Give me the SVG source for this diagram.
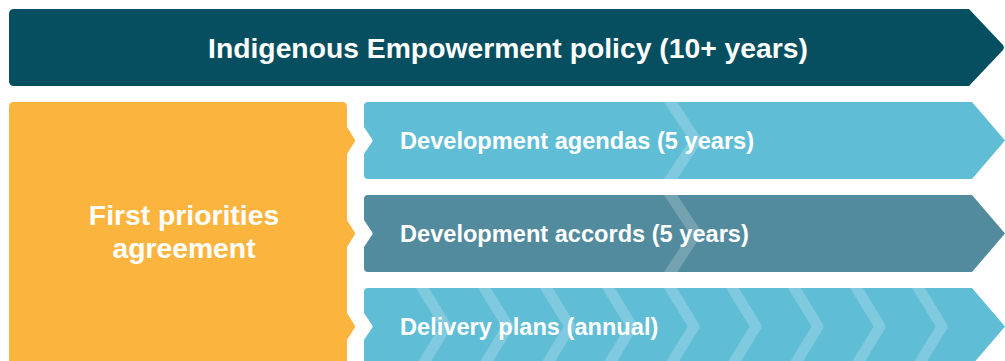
<svg xmlns="http://www.w3.org/2000/svg" width="1005" height="361" viewBox="0 0 1005 361">
<defs>
<style>
.t{font-family:"Liberation Sans",Arial,Helvetica,sans-serif;font-weight:bold;fill:#ffffff}
.big{font-size:28.3px}
.mid{font-size:23.6px}
.chev{fill:none;stroke:#ffffff;stroke-opacity:0.2;stroke-width:11;stroke-linejoin:round}
</style>
<path id="bar1" d="M368 102H972L1005 140.5L972 179H368Q364 179 364 175V154L372 142Q373.2 140.5 372 139L364 127V106Q364 102 368 102Z"/>
<path id="bar2" d="M368 195H972L1005 233.5L972 272H368Q364 272 364 268V247L372 235Q373.2 233.5 372 232L364 220V199Q364 195 368 195Z"/>
<path id="bar3" d="M368 288H972L1005 326.5L972 365H368Q364 365 364 361V340L372 328Q373.2 326.5 372 325L364 313V292Q364 288 368 288Z"/>
<clipPath id="c1"><use href="#bar1"/></clipPath>
<clipPath id="c2"><use href="#bar2"/></clipPath>
<clipPath id="c3"><use href="#bar3"/></clipPath>
</defs>
<rect width="1005" height="361" fill="#ffffff"/>
<g id="policy">
<path d="M14 9H969L1003 45Q1004.6 47.5 1003 50L969 86H14Q9 86 9 81V14Q9 9 14 9Z" fill="#064F61"/>
<text class="t big" x="508" y="58" text-anchor="middle">Indigenous Empowerment policy (10+ years)</text>
</g>
<g id="agreement">
<path d="M14 102H342Q347 102 347 107V127L354.5 139Q355.6 140.5 354.5 142L347 154V220L354.5 232Q355.6 233.5 354.5 235L347 247V313L354.5 325Q355.6 326.5 354.5 328L347 340V370H9V107Q9 102 14 102Z" fill="#FBB53E"/>
<text class="t big" x="184" y="225" text-anchor="middle">First priorities</text>
<text class="t big" x="184" y="258" text-anchor="middle">agreement</text>
</g>
<g id="agendas">
<use href="#bar1" fill="#60BDD6"/>
<g clip-path="url(#c1)">
<path class="chev" d="M668 98L696 140.5L668 183"/>
</g>
<text class="t mid" x="400" y="148.5">Development agendas (5 years)</text>
</g>
<g id="accords">
<use href="#bar2" fill="#528B9D"/>
<g clip-path="url(#c2)">
<path class="chev" d="M668 191L696 233.5L668 276"/>
</g>
<text class="t mid" x="400" y="241.5">Development accords (5 years)</text>
</g>
<g id="delivery">
<use href="#bar3" fill="#60BDD6"/>
<g clip-path="url(#c3)">
<path class="chev" d="M420 284L446 326.5L420 369"/>
<path class="chev" d="M482 284L508 326.5L482 369"/>
<path class="chev" d="M544 284L570 326.5L544 369"/>
<path class="chev" d="M606 284L632 326.5L606 369"/>
<path class="chev" d="M668 284L694 326.5L668 369"/>
<path class="chev" d="M730 284L756 326.5L730 369"/>
<path class="chev" d="M792 284L818 326.5L792 369"/>
<path class="chev" d="M854 284L880 326.5L854 369"/>
<path class="chev" d="M916 284L942 326.5L916 369"/>
</g>
<text class="t mid" x="400" y="334.5">Delivery plans (annual)</text>
</g>
</svg>
